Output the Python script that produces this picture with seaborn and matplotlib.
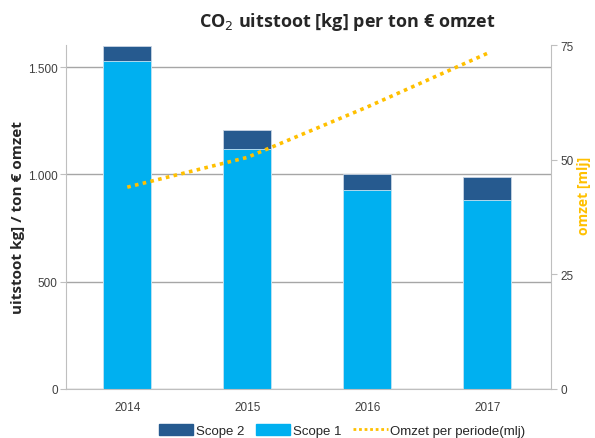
import numpy as np
import pandas as pd
import matplotlib.pyplot as plt
from matplotlib.patches import Patch
from matplotlib.lines import Line2D
import seaborn as sns

years = ["2014", "2015", "2016", "2017"]
scope1 = [1530, 1120, 925, 880]
scope2 = [70, 85, 78, 108]
omzet = [44.0, 50.5, 61.5, 73.2]

c_scope1 = "#00B0F0"
c_scope2 = "#265A8F"
c_omzet = "#FFC000"
grey = "#BFBFBF"

sns.set_style("white")
plt.rcParams["font.family"] = ["Liberation Sans Narrow", "Liberation Sans", "DejaVu Sans"]

df = pd.DataFrame({"jaar": years, "scope1": scope1,
                   "totaal": np.array(scope1) + np.array(scope2)})

fig = plt.figure(figsize=(5.95, 4.39), dpi=100)
ax = fig.add_axes([0.111, 0.112, 0.815, 0.783])

sns.barplot(data=df, x="jaar", y="totaal", color=c_scope2, width=0.4,
            edgecolor="#C8D4E3", linewidth=0.6, saturation=1, ax=ax)
sns.barplot(data=df, x="jaar", y="scope1", color=c_scope1, width=0.4,
            edgecolor="#C8E6F5", linewidth=0.6, saturation=1, ax=ax)

ax.set_xlim(-0.51, 3.53)
ax.set_ylim(0, 1603)
ax.set_yticks([0, 500, 1000, 1500])
ax.set_yticklabels(["0", "500", "1.000", "1.500"])
ax.yaxis.grid(True, color="#A6A6A6", linewidth=1)
ax.set_axisbelow(True)
ax.set_xlabel("")
ax.set_ylabel("")
for s in ["top", "right"]:
    ax.spines[s].set_visible(False)
for s in ["left", "bottom"]:
    ax.spines[s].set_color(grey)
ax.tick_params(axis="y", length=4, color=grey, labelsize=8.5, colors="#404040", pad=2)
ax.tick_params(axis="x", length=0, labelsize=8.5, colors="#404040", pad=9)
# tick marks between categories
ax.set_xticks([0.5, 1.5, 2.5], minor=True)
ax.tick_params(axis="x", which="minor", length=4, color=grey, direction="out")

ax2 = ax.twinx()
ax2.plot(np.arange(len(years)), omzet, color=c_omzet, linestyle=(0, (1, 1.2)),
         linewidth=2.6)
ax2.set_ylim(0, 75)
ax2.set_yticks([0, 25, 50, 75])
ax2.tick_params(axis="y", length=4, color=grey, labelsize=8.5, colors="#404040", pad=3)
for s in ["top", "left", "bottom"]:
    ax2.spines[s].set_visible(False)
ax2.spines["right"].set_color(grey)
ax2.set_xlim(-0.51, 3.53)

fig.text(0.583, 0.95, "CO$_2$ uitstoot [kg] per ton € omzet", ha="center", va="center",
         fontsize=13, fontweight="bold", family=["Open Sans", "DejaVu Sans"])
fig.text(0.03, 0.505, "uitstoot kg] / ton € omzet", rotation=90, ha="center", va="center",
         fontsize=11, fontweight="bold", family=["Open Sans", "DejaVu Sans"])
fig.text(0.982, 0.553, "omzet [mlj]", rotation=90, ha="center", va="center",
         fontsize=10, fontweight="bold", color=c_omzet, family=["Open Sans", "DejaVu Sans"])

handles = [Patch(color=c_scope2), Patch(color=c_scope1),
           Line2D([0], [0], color=c_omzet, linestyle=(0, (1, 1)), linewidth=2)]
fig.legend(handles, ["Scope 2", "Scope 1", "Omzet per periode(mlj)"],
           loc="center", bbox_to_anchor=(0.575, 0.018), ncol=3, frameon=False,
           fontsize=9.5, handlelength=2.6, handleheight=0.9, columnspacing=0.9,
           handletextpad=0.2)

fig.savefig("out.png", dpi=100)
